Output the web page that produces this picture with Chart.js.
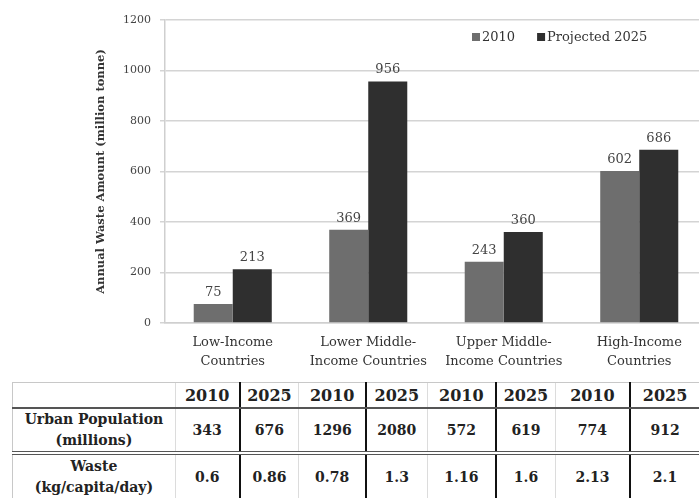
<!DOCTYPE html>
<html><head><meta charset="utf-8">
<script src="https://cdn.jsdelivr.net/npm/chart.js@4/dist/chart.umd.min.js"></script>
<style>
html,body{margin:0;padding:0;background:#fff;width:699px;height:498px;overflow:hidden;position:relative;}
#wrap{position:absolute;left:0;top:0;width:710px;height:375px;}
#tbl{position:absolute;left:12px;top:382px;border-collapse:collapse;table-layout:fixed;font-family:'DejaVu Serif',serif;font-weight:bold;color:#222;}
#tbl td{padding:0;text-align:center;vertical-align:middle;border-left:1px solid #dcdcdc;}
#tbl tr.h td{height:24px;font-size:16px;border-top:1px solid #c8c8c8;border-bottom:2px solid #555;}
#tbl tr.r1 td{height:42px;font-size:14px;border-bottom:4px double #555;}
#tbl tr.r2 td{height:44px;font-size:14px;}
#tbl td.lab{line-height:21px;border-left:1px solid #c8c8c8;}
#tbl td.y25{border-left:2px solid #111;}
</style></head>
<body>
<div id="wrap"><canvas id="c" width="710" height="375"></canvas></div>
<table id="tbl"><colgroup id="cg"></colgroup><tbody id="tb"></tbody></table>
<script>
const categories = [['Low-Income','Countries'],['Lower Middle-','Income Countries'],['Upper Middle-','Income Countries'],['High-Income','Countries']];
const seriesNames = ['2010','Projected 2025'];
const waste2010 = [75,369,243,602];
const waste2025 = [213,956,360,686];
const yAxisTitle = 'Annual Waste Amount (million tonne)';
const tableYears = ['2010','2025'];
const urbanPopulation = [343,676,1296,2080,572,619,774,912];
const wastePerCapita = ['0.6','0.86','0.78','1.3','1.16','1.6','2.13','2.1'];
const rowLabels = [['Urban Population','(millions)'],['Waste','(kg/capita/day)']];

const FONT = "'DejaVu Serif', serif";

const valueLabels = {
  id:'valueLabels',
  afterDatasetsDraw(chart){
    const ctx=chart.ctx; ctx.save();
    ctx.font='13px '+FONT; ctx.fillStyle='#444'; ctx.textAlign='center'; ctx.textBaseline='bottom';
    chart.data.datasets.forEach((ds,i)=>{
      chart.getDatasetMeta(i).data.forEach((bar,j)=>{
        ctx.fillText(String(ds.data[j]), bar.x, bar.y-5);
      });
    });
    ctx.restore();
  }
};
const boxLegend = {
  id:'boxLegend',
  afterDraw(chart){
    const ctx=chart.ctx, a=chart.chartArea; ctx.save();
    let x=a.left+307; const y=a.top+17;
    ctx.font='13px '+FONT; ctx.textBaseline='middle'; ctx.textAlign='left';
    chart.data.datasets.forEach(ds=>{
      ctx.fillStyle=ds.backgroundColor; ctx.fillRect(x,y-4,8,8);
      x+=10; ctx.fillStyle='#333'; ctx.fillText(ds.label,x,y+1);
      x+=ctx.measureText(ds.label).width+22;
    });
    ctx.restore();
  }
};

new Chart(document.getElementById('c'),{
  type:'bar',
  data:{labels:categories,datasets:[
    {label:seriesNames[0],data:waste2010,backgroundColor:'#6e6e6e',categoryPercentage:0.576,barPercentage:1},
    {label:seriesNames[1],data:waste2025,backgroundColor:'#2f2f2f',categoryPercentage:0.576,barPercentage:1}
  ]},
  options:{
    responsive:false,animation:false,
    layout:{padding:{left:88,top:20,right:3,bottom:0}},
    plugins:{legend:{display:false},tooltip:{enabled:false}},
    scales:{
      x:{grid:{display:false,drawTicks:false},border:{display:true,color:'#cfcfcf',width:1.5},
         ticks:{padding:10,color:'#333',font:{family:FONT,size:13,lineHeight:1.45},maxRotation:0,autoSkip:false},
         afterFit:s=>{s.height=52;}},
      y:{min:0,max:1200,ticks:{stepSize:200,padding:9,color:'#444',font:{family:FONT,size:11},callback:v=>String(v)},
         grid:{color:'#d4d4d4',lineWidth:1.5,tickLength:5},
         border:{color:'#cfcfcf',width:1.5},
         title:{display:true,text:yAxisTitle,color:'#333',font:{family:FONT,size:11.5,weight:'bold'},padding:{top:6,bottom:0}},
         afterFit:s=>{s.width=77;}}
    }
  },
  plugins:[valueLabels,boxLegend]
});

// table
const colWidths=[165,65,60,68,62,70,60,76,70];
const cg=document.getElementById('cg');
colWidths.forEach(w=>{const c=document.createElement('col');c.style.width=w+'px';cg.appendChild(c);});
const tb=document.getElementById('tb');
function mkRow(cls,label,vals){
  const tr=document.createElement('tr');tr.className=cls;
  const l=document.createElement('td');l.className='lab';l.innerHTML=label.join('<br>');tr.appendChild(l);
  vals.forEach((v,i)=>{const td=document.createElement('td');td.textContent=v;if(i%2===1)td.className='y25';tr.appendChild(td);});
  tb.appendChild(tr);
}
mkRow('h',[''],urbanPopulation.map((_,i)=>tableYears[i%2]));
mkRow('r1',rowLabels[0],urbanPopulation.map(String));
mkRow('r2',rowLabels[1],wastePerCapita);
</script>
</body></html>
